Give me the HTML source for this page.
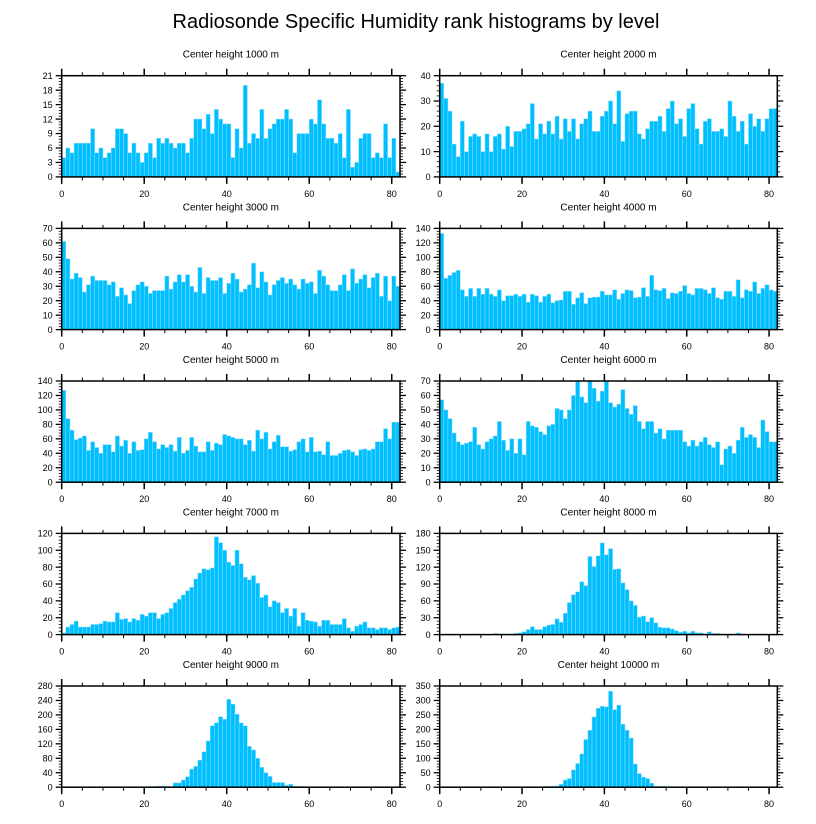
<!DOCTYPE html>
<html><head><meta charset="utf-8"><style>
body{margin:0;background:#fff;}
svg{display:block;font-family:"Liberation Sans",sans-serif;}
</style></head><body>
<svg id="chart" width="816" height="824" viewBox="0 0 816 824" xmlns="http://www.w3.org/2000/svg">
<text x="416" y="28" font-size="20" text-anchor="middle">Radiosonde Specific Humidity rank histograms by level</text>
</svg>
<script>
const panelTitles = ["Center height 1000 m","Center height 2000 m","Center height 3000 m","Center height 4000 m","Center height 5000 m","Center height 6000 m","Center height 7000 m","Center height 8000 m","Center height 9000 m","Center height 10000 m"];
const xTickLabels = [0,20,40,60,80];
const yMaxes = [21,40,70,140,140,70,120,180,280,350];
const ySteps = [3,10,10,20,20,10,20,30,40,50];
const h1000 = [4,6,5,7,7,7,7,10,5,6,4,5,6,10,10,9,5,7,5,3,5,7,4,8,7,8,7,6,7,7,5,8,12,12,10,13,9,14,12,11,11,4,10,6,19,7,9,8,14,8,10,11,12,12,14,12,5,9,9,9,12,11,16,11,8,8,7,9,4,14,2,3,8,9,9,4,5,4,11,4,8,1];
const h2000 = [37,31,26,13,8,22,10,16,17,16,10,17,10,16,17,11,20,12,18,18,19,21,29,15,21,17,22,17,24,15,23,18,23,15,21,23,26,18,18,24,26,30,21,34,14,25,26,26,17,15,19,22,22,24,18,27,30,21,23,16,27,29,19,13,22,23,18,18,19,16,30,24,18,22,13,25,20,23,18,23,27,27];
const h3000 = [61,49,35,39,36,26,31,37,34,34,34,31,33,23,29,24,18,27,31,33,30,25,27,27,27,37,28,33,38,33,38,30,26,43,25,36,34,34,36,25,32,39,35,26,28,31,46,29,40,33,24,31,34,36,32,35,31,28,35,32,33,25,41,37,31,27,27,31,38,27,42,32,35,38,29,36,39,23,37,20,37,30];
const h4000 = [133,71,75,79,82,55,46,57,46,57,49,57,49,46,55,40,47,47,49,46,49,38,49,47,38,46,49,37,40,41,53,53,35,44,51,36,44,45,45,53,48,48,55,42,50,55,54,44,45,58,46,75,55,54,57,43,51,50,53,61,50,48,57,57,55,50,58,44,42,53,53,46,69,44,55,53,66,50,57,62,55,53];
const h5000 = [127,88,72,59,61,64,44,56,48,40,52,52,42,64,50,58,40,56,44,45,60,69,56,46,52,48,52,43,62,40,44,62,50,42,42,56,44,54,52,66,64,62,60,60,52,58,43,72,60,69,46,56,65,49,49,43,45,56,60,42,62,42,43,38,56,37,37,40,44,45,42,37,45,46,44,46,56,56,74,60,83,83];
const h6000 = [57,50,44,34,28,26,27,28,38,26,23,28,30,32,42,29,22,30,20,30,19,42,39,38,35,33,39,40,51,50,44,50,60,70,59,55,70,65,56,63,70,55,52,54,64,51,47,53,42,37,42,42,34,37,30,36,36,36,36,28,25,29,25,28,31,26,24,28,12,23,25,20,29,38,31,33,31,24,43,35,28,28];
const h7000 = [2,9,12,16,9,9,9,12,12,13,16,15,15,26,18,19,15,19,17,24,22,26,26,19,24,26,31,38,42,47,52,56,66,73,78,77,79,116,109,100,86,82,100,84,68,65,70,61,44,47,33,40,38,26,31,22,31,10,26,17,16,15,10,17,17,12,12,12,19,8,4,10,12,15,8,8,6,8,8,6,8,9];
const h8000 = [0,0,0,0,0,0,0,0,1,0,0,0,0,2,1,1,1,1,2,3,5,9,14,9,9,14,17,18,28,22,38,57,71,76,94,87,139,121,140,163,142,153,116,117,92,80,60,52,31,33,23,30,21,13,12,12,10,7,4,6,3,6,3,3,1,5,2,2,1,1,1,1,3,1,0,0,0,1,1,0,0,0];
const h9000 = [0,0,0,0,0,0,0,0,0,0,0,0,0,0,0,0,0,0,0,0,0,2,2,3,3,3,2,12,12,20,29,50,58,75,98,128,170,178,195,188,243,230,202,178,170,113,103,80,55,40,30,13,13,13,5,8,3,2,2,1,1,1,0,0,0,0,1,0,0,0,0,0,0,0,0,0,0,0,0,0,0,0];
const h10000 = [0,0,0,0,0,0,0,0,0,0,0,0,0,0,0,0,0,0,0,0,0,0,0,0,0,2,3,3,4,10,25,30,60,82,115,165,197,243,273,280,278,332,268,284,218,197,170,80,47,35,30,14,3,3,3,2,1,1,0,0,0,0,0,0,0,0,2,0,0,0,0,0,0,0,0,0,0,0,0,0,0,0];
const series = [h1000,h2000,h3000,h4000,h5000,h6000,h7000,h8000,h9000,h10000];

const NS="http://www.w3.org/2000/svg";
const svg=document.getElementById('chart');
function mk(tag,attrs,parent){const e=document.createElementNS(NS,tag);for(const k in attrs)e.setAttribute(k,attrs[k]);parent.appendChild(e);return e;}
const XMAX=82;
const colX=[61.7,439.7], colW=[338.3,337.6];
const rowY=[75.7,228.4,381,533.4,686], rowH=101.2;
series.forEach((data,p)=>{
  const c=p%2, r=Math.floor(p/2);
  const x0=colX[c], w=colW[c], y0=rowY[r], h=rowH;
  const xs=v=>x0+v/XMAX*w;
  const ys=v=>y0+h-v/yMaxes[p]*h;
  const g=mk('g',{},svg);
  
  
  const t=mk('text',{x:x0+w/2,y:y0-18,'font-size':10,'text-anchor':'middle'},g);
  
  
  t.textContent=panelTitles[p];
  data.forEach((v,i)=>{
    const b=mk('rect',{x:xs(i),y:ys(v),width:xs(i+1)-xs(i),height:ys(0)-ys(v),fill:'#00bfff',stroke:'#8fdfff','stroke-width':0.5},g);
    
    
  });
  const fr=mk('rect',{x:x0,y:y0,width:w,height:h,fill:'none',stroke:'#000','stroke-width':1.5},g);
  
  
  // x ticks
  for(let v=0;v<=XMAX;v+=5){
    const maj=v%20===0, L=maj?7:3.5, X=xs(v);
    mk('line',{x1:X,x2:X,y1:y0,y2:y0-L,stroke:'#000','stroke-width':maj?1.5:1},g);
    mk('line',{x1:X,x2:X,y1:y0+h,y2:y0+h+L,stroke:'#000','stroke-width':maj?1.5:1},g);
  }
  xTickLabels.forEach(v=>{
    const l=mk('text',{x:xs(v),y:y0+h+20,'font-size':9,'text-anchor':'middle'},g);
    
    
    l.textContent=v;
  });
  // y ticks
  const st=ySteps[p], minor=st/5;
  for(let k=0;k*minor<=yMaxes[p]+1e-9;k++){
    const v=k*minor, maj=k%5===0, L=maj?6:3, Y=ys(v);
    mk('line',{x1:x0,x2:x0-L,y1:Y,y2:Y,stroke:'#000','stroke-width':maj?1.3:0.8},g);
    mk('line',{x1:x0+w,x2:x0+w+L,y1:Y,y2:Y,stroke:'#000','stroke-width':maj?1.3:0.8},g);
  }
  for(let v=0;v<=yMaxes[p]+1e-9;v+=st){
    const l=mk('text',{x:x0-9,y:ys(v)+3.2,'font-size':9,'text-anchor':'end'},g);
    
    
    l.textContent=v;
  }
});
</script>
</body></html>
